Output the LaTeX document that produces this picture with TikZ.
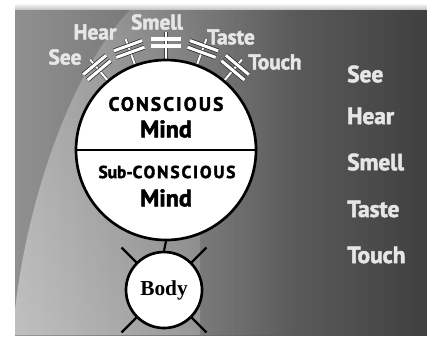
\documentclass[tikz,border=0pt]{standalone}
\usepackage{fontspec}
\setmainfont{Liberation Serif}
\newfontfamily\lblfont{PT Sans Bold}[FakeBold=2.2]
\newfontfamily\capsfont{PT Sans Bold}[LetterSpace=11,FakeBold=2.2]
\usetikzlibrary{fadings,calc}
\definecolor{bgleft}{HTML}{909090}
\definecolor{bgmid}{HTML}{6E6E6E}
\definecolor{bgright}{HTML}{404040}
\definecolor{lbl}{HTML}{E6E6E6}
\tikzset{
  spoke/.style={line width=0.45pt, draw=black!75, double=white, double distance=1.5pt},
  bar/.style={line width=0.55pt, draw=black!85, double=white, double distance=2.3pt},
  toplbl/.style={text=lbl, font=\lblfont\fontsize{16}{16}\selectfont, inner sep=0pt},
  sidelbl/.style={text=lbl, font=\lblfont\fontsize{17.5}{17.5}\selectfont, inner sep=0pt, anchor=west},
  mindtext/.style={font=\lblfont\fontsize{18}{18}\selectfont, inner sep=0pt},
  bigcirc/.style={circle, draw=black, line width=2pt, fill=white, inner sep=0pt},
}
\begin{document}
\begin{tikzpicture}[x=0.75pt,y=-0.75pt]
\useasboundingbox (0,0) rectangle (427,337);
\fill[white] (0,0) rectangle (427,337);
\shade[top color=white, bottom color=black!25] (15,3) rectangle (427,10);
\shade[left color=bgleft, middle color=bgmid, right color=bgright] (15,10) rectangle (427,335);
% light swoosh on the left
\fill[white, opacity=0.28, path fading=east] (130,10) .. controls (80,60) and (30,180) .. (15,310) -- (15,335) -- (300,335) -- (300,10) -- cycle;
\fill[white, opacity=0.22, path fading=north] (130,10) .. controls (80,60) and (30,180) .. (15,310) -- (15,335) -- (200,335) -- (200,10) -- cycle;
\begin{scope}
\clip (15,10) rectangle (427,335);
\draw[white, opacity=0.07, line width=12pt] (200,10) arc[start angle=180, end angle=290, x radius=260, y radius=120];
\end{scope}
% sense spokes
\coordinate (mc) at (166,150);
\foreach \a/\n in {130/a,110/b,90/c,70/d,50/e}{
  \coordinate (s\n0) at ($(mc)+({-\a}:89)$);
  \coordinate (s\n1) at ($(mc)+({-\a}:118)$);
  \draw[spoke] (s\n0) -- (s\n1);
  \foreach \r in {104,111}{
    \coordinate (b\n\r) at ($(mc)+({-\a}:\r)$);
    \draw[bar] ($(b\n\r)+({-\a+90}:15)$) -- ($(b\n\r)+({-\a-90}:15)$);
  }
}
% main circle
\node[bigcirc, minimum size=135pt] (mind) at (mc) {};
\draw[line width=1.6pt] (mind.west) -- (mind.east);
\node[mindtext, font=\capsfont\fontsize{14.5}{14.5}\selectfont] (con) at (166,104) {CONSCIOUS};
\node[mindtext] (m1) at (166,129) {Mind};
\node[mindtext, font=\lblfont\fontsize{13}{13}\selectfont] (sub) at (167,172) {Sub-{\capsfont CONSCIOUS}};
\node[mindtext] (m2) at (166,198) {Mind};
% body
\coordinate (bc) at (164,290);
\foreach \a in {45,135,225,315}{
  \draw[line width=1.8pt] (bc) -- ($(bc)+(\a:60)$);
}
\node[bigcirc, minimum size=57pt] (body) at (bc) {};
\node[font=\bfseries\fontsize{16}{16}\selectfont, inner sep=0pt] (bt) at (164,290) {Body};
\draw[line width=1.6pt] (mind.south) -- (body.north);
% top labels
\node[toplbl] (l1) at (65,57) {See};
\node[toplbl] (l2) at (95,32) {Hear};
\node[toplbl] (l3) at (157,22) {Smell};
\node[toplbl] (l4) at (231,37) {Taste};
\node[toplbl] (l5) at (275,62) {Touch};
% side labels
\node[sidelbl] (r1) at (347,74) {See};
\node[sidelbl] (r2) at (347,116) {Hear};
\node[sidelbl] (r3) at (347,162) {Smell};
\node[sidelbl] (r4) at (347,209) {Taste};
\node[sidelbl] (r5) at (347,255) {Touch};
\end{tikzpicture}
\end{document}
